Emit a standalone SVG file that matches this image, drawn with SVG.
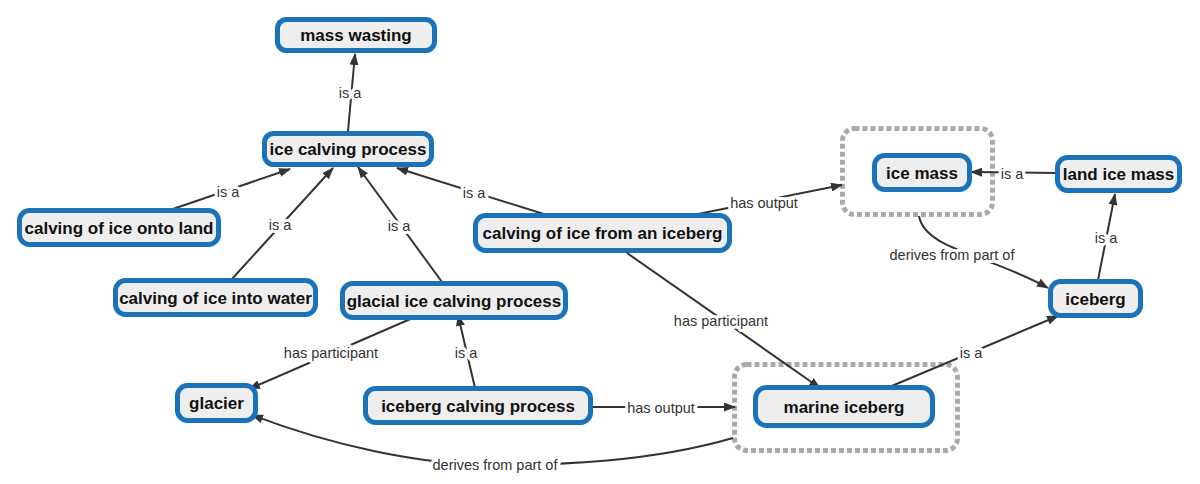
<svg xmlns="http://www.w3.org/2000/svg" width="1200" height="484" viewBox="0 0 1200 484">
<style>
.node rect{fill:#eeeeee;stroke:#1a72b9;stroke-width:5}
.node text{font-family:"Liberation Sans",Arial,sans-serif;font-size:17px;font-weight:bold;fill:#111;text-anchor:middle}
.grp{fill:none;stroke:#aaaaaa;stroke-width:5;stroke-dasharray:5 3}
.edge path{fill:none;stroke:#333;stroke-width:2;marker-end:url(#arr)}
.edge text{font-family:"Liberation Sans",Arial,sans-serif;font-size:14.5px;fill:#333;text-anchor:middle;stroke:#fff;stroke-width:6;paint-order:stroke;stroke-linejoin:round}
</style>
<defs>
<marker id="arr" markerUnits="userSpaceOnUse" markerWidth="12" markerHeight="9" refX="11" refY="4.5" orient="auto">
<path d="M0,0 L12,4.5 L0,9 z" fill="#333"/>
</marker>
</defs>
<rect width="1200" height="484" fill="#fff"/>
<g id="groups">
<rect class="grp" x="842.5" y="128.5" width="150" height="86" rx="12"/>
<rect class="grp" x="734.5" y="364.5" width="223" height="86" rx="12"/>
</g>
<g id="connectors" class="edge">
<path d="M348,131 L355,54"/>
<text x="350" y="98">is a</text>
<path d="M170,210 L290,169"/>
<text x="228" y="197">is a</text>
<path d="M232,279 L333,168"/>
<text x="280" y="230">is a</text>
<path d="M442,282 L358,167"/>
<text x="399" y="231">is a</text>
<path d="M550,216 L397,168"/>
<text x="474" y="198">is a</text>
<path d="M688,216 L842,185"/>
<text x="764" y="208">has output</text>
<path d="M1056,173 L971,172"/>
<text x="1012" y="179">is a</text>
<path d="M1098,280 L1115,194"/>
<text x="1106" y="243">is a</text>
<path d="M919,216 C925,250 990,255 1048,288"/>
<text x="952" y="260">derives from part of</text>
<path d="M887,388 L1058,316"/>
<text x="971" y="358">is a</text>
<path d="M627,253 L820,388"/>
<text x="721" y="326">has participant</text>
<path d="M415,317 L249,389"/>
<text x="331" y="358">has participant</text>
<path d="M475,388 L458,315"/>
<text x="466" y="358">is a</text>
<path d="M593,407 L735,407"/>
<text x="661" y="413">has output</text>
<path d="M733,438 C650,462 560,465 495,465 C420,465 330,445 252,415"/>
<text x="495" y="470">derives from part of</text>
</g>
<g id="n-mass-wasting" class="node"><rect x="277.5" y="19.5" width="157" height="31" rx="9"/><text x="356" y="41">mass wasting</text></g>
<g id="n-ice-calving-process" class="node"><rect x="264.5" y="133.5" width="167" height="31" rx="9"/><text x="348" y="155">ice calving process</text></g>
<g id="n-onto-land" class="node"><rect x="19.5" y="210.5" width="199" height="34" rx="10"/><text x="119" y="233.5">calving of ice onto land</text></g>
<g id="n-into-water" class="node"><rect x="115.5" y="280.5" width="200" height="34" rx="10"/><text x="215.5" y="303.5">calving of ice into water</text></g>
<g id="n-glacial" class="node"><rect x="342.5" y="283.5" width="223" height="34" rx="10"/><text x="454" y="306.5">glacial ice calving process</text></g>
<g id="n-from-iceberg" class="node"><rect x="475.5" y="215.5" width="254" height="35" rx="10"/><text x="602.5" y="239">calving of ice from an iceberg</text></g>
<g id="n-ice-mass" class="node"><rect x="874.5" y="155.5" width="95" height="34" rx="10"/><text x="922" y="178.5">ice mass</text></g>
<g id="n-land-ice-mass" class="node"><rect x="1057.5" y="157.5" width="122" height="33" rx="10"/><text x="1118.5" y="180">land ice mass</text></g>
<g id="n-iceberg" class="node"><rect x="1050.5" y="281.5" width="90" height="34" rx="10"/><text x="1095.5" y="304.5">iceberg</text></g>
<g id="n-glacier" class="node"><rect x="177.5" y="385.5" width="78" height="35" rx="10"/><text x="216.5" y="409">glacier</text></g>
<g id="n-iceberg-calving" class="node"><rect x="365.5" y="388.5" width="225" height="34" rx="10"/><text x="478" y="411.5">iceberg calving process</text></g>
<g id="n-marine-iceberg" class="node"><rect x="755.5" y="387.5" width="177" height="38" rx="11"/><text x="844" y="412.5">marine iceberg</text></g>
</svg>
